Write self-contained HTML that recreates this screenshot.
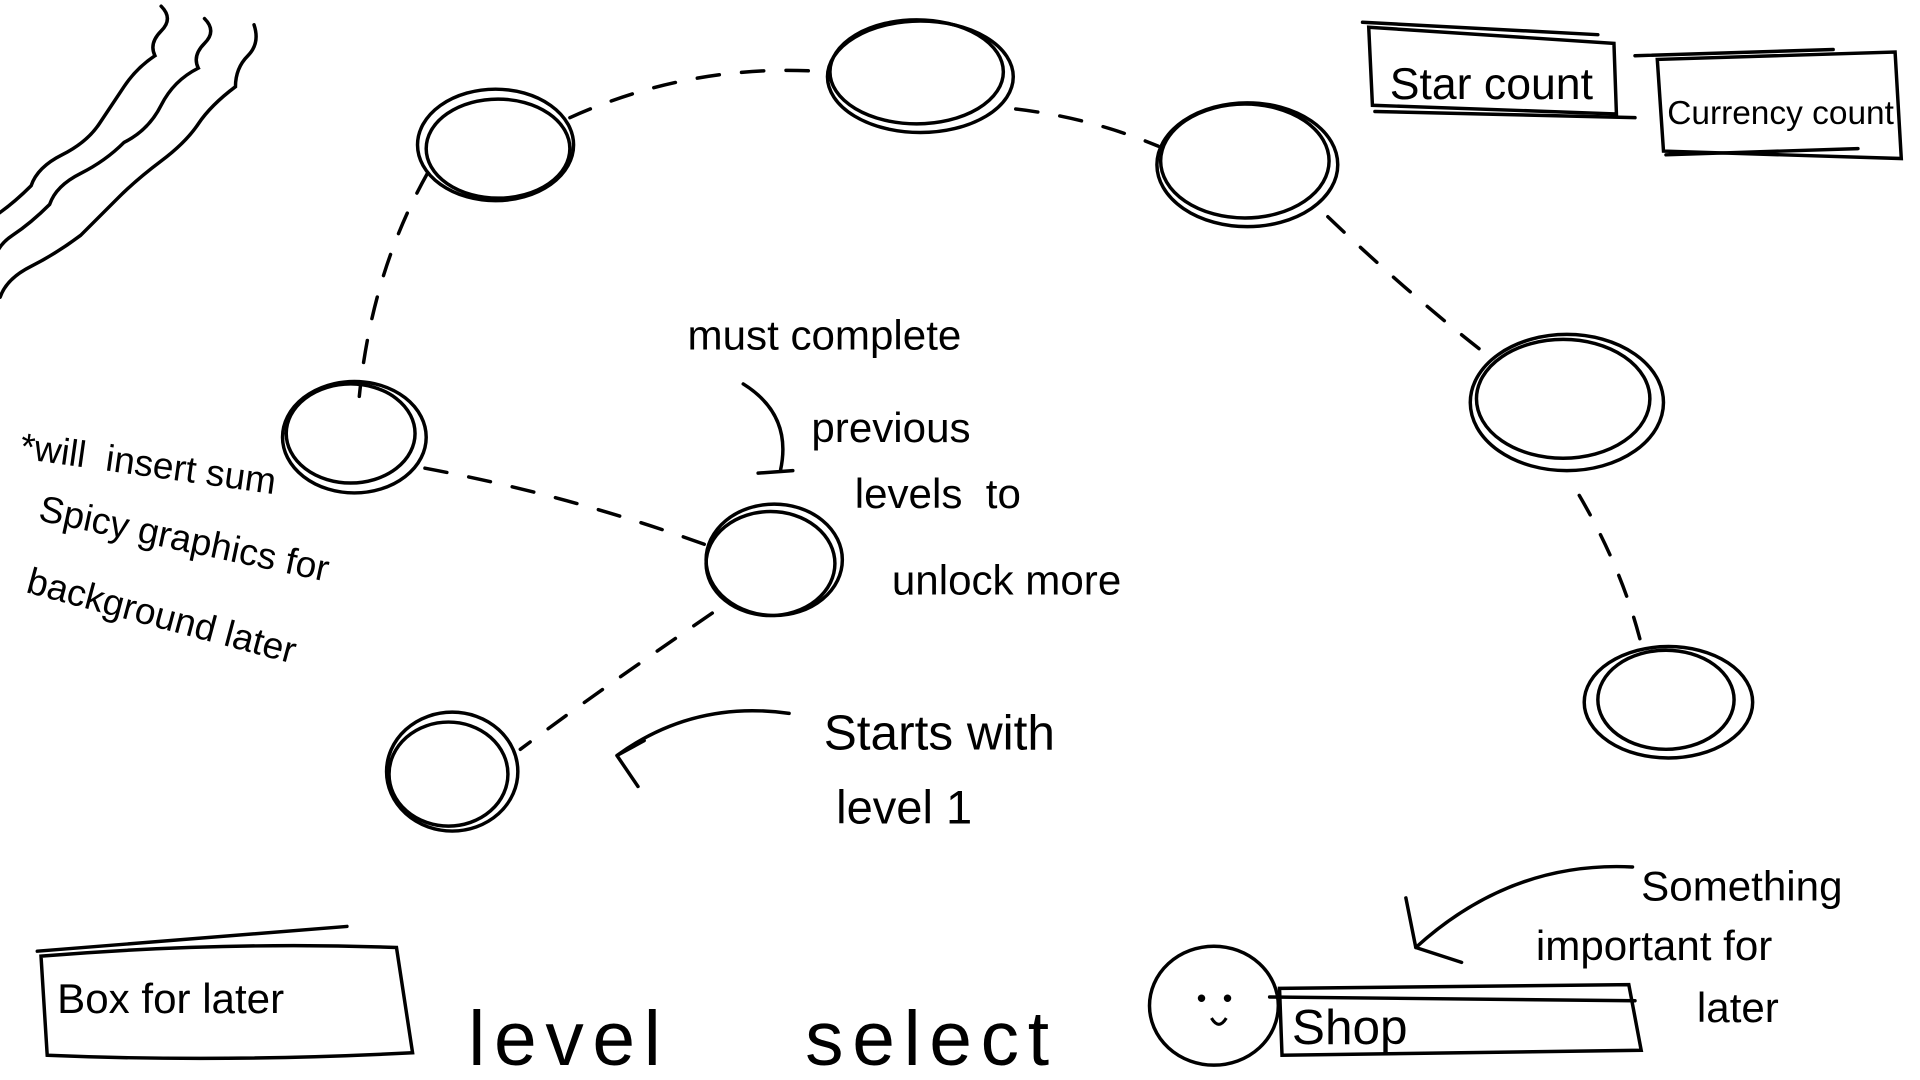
<!DOCTYPE html>
<html><head><style>
html,body{margin:0;padding:0;background:#fff;width:1920px;height:1080px;overflow:hidden}
svg text{font-family:"Liberation Sans",sans-serif;fill:#000}
</style></head><body>
<svg width="1920" height="1080" viewBox="0 0 1550 872" xmlns="http://www.w3.org/2000/svg">
<g fill="none" stroke="#000" stroke-width="2.8" stroke-linecap="round">
<!-- wavy lines -->
<path d="M130,5 q10,10 0,20 t-5,20 q-15,10 -25,25 t-20,30 q-10,15 -30,25 t-25,25 q-15,15 -30,25 t-15,30"/>
<path d="M165,15 q10,10 0,20 t-5,20 q-20,10 -30,30 t-30,30 q-15,15 -35,25 t-25,25 q-15,15 -30,25 t-15,25"/>
<path d="M205,20 q5,15 -5,25 t-10,25 q-20,15 -30,30 t-30,30 q-20,15 -35,30 t-30,30 q-20,15 -40,25 t-25,25"/>
<!-- nodes -->
<ellipse cx="400" cy="117" rx="63" ry="45"/><ellipse cx="402" cy="120" rx="58" ry="40"/>
<ellipse cx="743" cy="62" rx="75" ry="45"/><ellipse cx="740" cy="58" rx="70" ry="42"/>
<ellipse cx="1007" cy="133" rx="73" ry="50"/><ellipse cx="1005" cy="130" rx="68" ry="46"/>
<ellipse cx="1265" cy="325" rx="78" ry="55"/><ellipse cx="1262" cy="322" rx="70" ry="48"/>
<ellipse cx="1347" cy="567" rx="68" ry="45"/><ellipse cx="1345" cy="565" rx="55" ry="40"/>
<ellipse cx="286" cy="353" rx="58" ry="45"/><ellipse cx="283" cy="350" rx="52" ry="40"/>
<ellipse cx="625" cy="452" rx="55" ry="45"/><ellipse cx="622" cy="455" rx="52" ry="42"/>
<ellipse cx="365" cy="623" rx="53" ry="48"/><ellipse cx="362" cy="625" rx="48" ry="42"/>
<!-- dashed connectors -->
<g stroke-dasharray="18,18">
<path d="M460,95 Q560,50 668,58"/>
<path d="M820,88 Q880,95 935,118"/>
<path d="M1072,175 Q1140,240 1205,290"/>
<path d="M1275,400 Q1310,460 1325,520"/>
<path d="M345,140 Q300,220 290,320"/>
<path d="M343,378 Q460,400 570,440"/>
<path d="M575,495 Q480,560 420,605"/>
</g>
<!-- boxes -->
<path d="M1105,22 L1303,35 L1305,92 L1108,85 Z"/><path d="M1100,18 L1290,28 M1110,90 L1320,95"/>
<path d="M1338,48 L1530,42 L1535,128 L1343,122 Z"/><path d="M1320,45 L1480,40 M1345,125 L1500,120"/>
<path d="M33,772 Q180,760 320,765 L333,850 Q180,858 38,852 Z"/><path d="M30,768 L280,748"/>
<path d="M1033,798 L1315,795 L1325,848 L1035,852 Z"/><path d="M1025,805 L1320,808"/>
<ellipse cx="980" cy="812" rx="52" ry="48"/>
<!-- arrows -->
<path d="M637,576 Q560,565 498,610 M498,610 L515,635 M498,610 L520,598"/>
<path d="M1318,700 Q1220,695 1143,765 M1143,765 L1135,725 M1143,765 L1180,777"/>
<path d="M600,310 Q640,335 630,380 M612,382 L640,380"/>
</g>
<circle cx="970" cy="806" r="3"/><circle cx="991" cy="806" r="3"/>
<path d="M978,822 q6,10 12,0" fill="none" stroke="#000" stroke-width="2.5"/>
<g font-size="34">
<text x="1122" y="80" font-size="36">Star count</text>
<text x="1346" y="100" font-size="27">Currency count</text>
<text x="46" y="818" font-size="34">Box for later</text>
<text x="1043" y="843" font-size="40">Shop</text>
<text x="378" y="860" font-size="62" letter-spacing="7">level</text>
<text x="650" y="860" font-size="62" letter-spacing="7">select</text>
<text x="555" y="282">must complete</text>
<text x="655" y="357">previous</text>
<text x="690" y="410">levels&#160;&#160;to</text>
<text x="720" y="480">unlock more</text>
<text x="665" y="605" font-size="40">Starts with</text>
<text x="675" y="665" font-size="38">level 1</text>
<text x="1325" y="727">Something</text>
<text x="1240" y="775">important for</text>
<text x="1370" y="825">later</text>
<g font-size="30">
<text x="15" y="370" transform="rotate(8 15 370)">*will&#160;&#160;insert sum</text>
<text x="30" y="420" transform="rotate(12 30 420)">Spicy graphics for</text>
<text x="20" y="478" transform="rotate(15 20 478)">background later</text>
</g>
</g>
</svg>
</body></html>
